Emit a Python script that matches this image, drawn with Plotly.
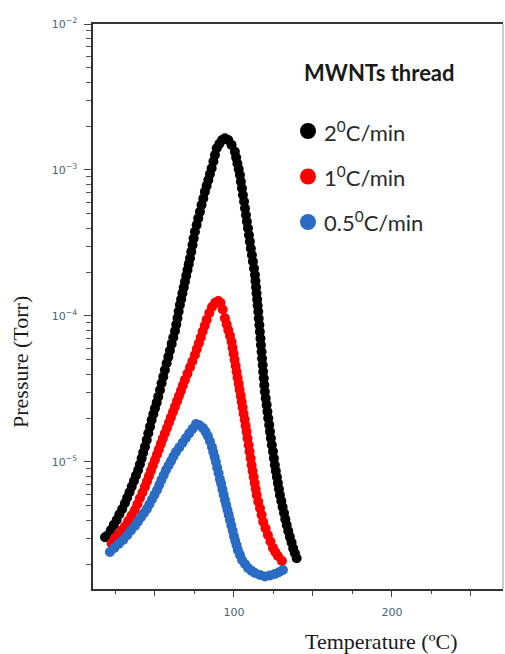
import plotly.graph_objects as go

# Desorption curves of the MWNTs thread at three heating rates
black_T = [18.4, 20.4, 22.2, 24.0, 25.8, 27.5, 29.3, 31.0, 32.4, 33.9,
           35.3, 36.7, 38.0, 39.4, 40.5, 41.6, 42.6, 43.7, 44.8, 45.8,
           46.9, 47.9, 49.0, 50.0, 51.1, 52.1, 53.2, 54.2, 55.3, 56.3,
           57.4, 58.5, 59.5, 60.6, 61.6, 62.7, 63.5, 64.3, 65.0, 65.8,
           66.6, 67.4, 68.2, 69.0, 69.8, 70.6, 71.4, 72.2, 73.0, 73.8,
           74.5, 75.3, 76.4, 77.4, 78.5, 79.5, 80.6, 81.6, 82.7, 83.8,
           84.8, 85.9, 87.0, 88.0, 89.1, 90.8, 92.5, 94.3, 96.4, 98.5,
           100.6, 101.4, 102.2, 103.0, 103.8, 104.4, 105.1, 105.7, 106.4, 107.0,
           107.6, 108.2, 108.9, 109.5, 110.1, 110.7, 111.4, 112.0, 112.7, 113.3,
           113.6, 114.0, 114.3, 114.7, 115.0, 115.4, 115.7, 116.1, 116.4, 116.8,
           117.1, 117.5, 117.8, 118.2, 118.5, 118.9, 119.2, 119.6, 120.1, 120.7,
           121.2, 121.7, 122.3, 122.8, 123.4, 124.0, 124.7, 125.3, 125.9, 126.5,
           127.2, 127.8, 128.5, 129.1, 130.0, 130.8, 131.7, 132.5, 133.4, 134.4,
           135.4, 136.5, 137.5, 138.6, 139.7]
black_P = [3.05e-6, 3.16e-6, 3.42e-6, 3.71e-6, 4.01e-6, 4.38e-6, 4.77e-6, 5.21e-6, 5.69e-6, 6.21e-6,
           6.78e-6, 7.40e-6, 8.07e-6, 8.81e-6, 9.66e-6, 1.059e-5, 1.161e-5, 1.274e-5, 1.416e-5, 1.574e-5,
           1.746e-5, 1.940e-5, 2.13e-5, 2.33e-5, 2.55e-5, 2.80e-5, 3.11e-5, 3.46e-5, 3.84e-5, 4.27e-5,
           4.74e-5, 5.25e-5, 5.81e-5, 6.44e-5, 7.13e-5, 7.89e-5, 8.73e-5, 9.68e-5, 1.072e-4, 1.189e-4,
           1.303e-4, 1.429e-4, 1.567e-4, 1.718e-4, 1.883e-4, 2.065e-4, 2.265e-4, 2.483e-4, 2.754e-4, 3.06e-4,
           3.40e-4, 3.78e-4, 4.20e-4, 4.66e-4, 5.18e-4, 5.75e-4, 6.38e-4, 7.10e-4, 7.78e-4, 8.53e-4,
           9.38e-4, 1.028e-3, 1.143e-3, 1.268e-3, 1.409e-3, 1.514e-3, 1.603e-3, 1.648e-3, 1.603e-3, 1.486e-3,
           1.333e-3, 1.216e-3, 1.109e-3, 1.014e-3, 9.25e-4, 8.32e-4, 7.50e-4, 6.75e-4, 6.08e-4, 5.47e-4,
           4.92e-4, 4.43e-4, 3.99e-4, 3.59e-4, 3.23e-4, 2.90e-4, 2.62e-4, 2.36e-4, 2.12e-4, 1.910e-4,
           1.734e-4, 1.574e-4, 1.429e-4, 1.297e-4, 1.178e-4, 1.069e-4, 9.62e-5, 8.67e-5, 7.80e-5, 7.02e-5,
           6.32e-5, 5.69e-5, 5.12e-5, 4.61e-5, 4.15e-5, 3.74e-5, 3.36e-5, 3.03e-5, 2.73e-5, 2.46e-5,
           2.21e-5, 1.991e-5, 1.795e-5, 1.614e-5, 1.452e-5, 1.307e-5, 1.178e-5, 1.059e-5, 9.53e-6, 8.67e-6,
           7.89e-6, 7.18e-6, 6.53e-6, 5.94e-6, 5.41e-6, 4.92e-6, 4.47e-6, 4.06e-6, 3.70e-6, 3.37e-6,
           3.07e-6, 2.81e-6, 2.56e-6, 2.37e-6, 2.19e-6]

red_T = [22.6, 24.7, 26.8, 28.9, 31.0, 33.1, 35.2, 37.3, 38.9, 40.5,
         42.1, 43.7, 45.0, 46.2, 47.5, 48.7, 50.0, 51.3, 52.5, 53.8,
         55.0, 56.3, 57.6, 58.9, 60.1, 61.4, 62.7, 64.0, 65.2, 66.5,
         67.7, 69.0, 70.6, 72.2, 73.7, 75.3, 76.5, 77.8, 79.0, 80.2,
         81.5, 82.7, 84.4, 86.1, 88.1, 90.1, 91.5, 92.9, 94.3, 95.4,
         96.4, 97.5, 98.5, 99.1, 99.8, 100.4, 101.1, 101.7, 102.3, 103.0,
         103.6, 104.3, 104.9, 105.5, 106.1, 106.8, 107.4, 108.0, 108.6, 109.3,
         109.9, 110.6, 111.2, 111.8, 112.5, 113.1, 113.8, 114.4, 115.4, 116.5,
         117.5, 118.5, 120.0, 121.5, 123.1, 124.7, 126.2, 127.8, 130.4]
red_P = [2.77e-6, 3.00e-6, 3.19e-6, 3.39e-6, 3.61e-6, 3.94e-6, 4.30e-6, 4.69e-6, 5.14e-6, 5.64e-6,
         6.18e-6, 6.78e-6, 7.38e-6, 8.02e-6, 8.73e-6, 9.48e-6, 1.033e-5, 1.125e-5, 1.222e-5, 1.331e-5,
         1.446e-5, 1.574e-5, 1.710e-5, 1.862e-5, 2.02e-5, 2.20e-5, 2.39e-5, 2.61e-5, 2.83e-5, 3.08e-5,
         3.35e-5, 3.65e-5, 4.03e-5, 4.45e-5, 4.90e-5, 5.41e-5, 5.93e-5, 6.50e-5, 7.13e-5, 7.82e-5,
         8.57e-5, 9.40e-5, 1.047e-4, 1.153e-4, 1.230e-4, 1.268e-4, 1.230e-4, 1.109e-4, 9.64e-5, 8.79e-5,
         8.02e-5, 7.31e-5, 6.67e-5, 6.07e-5, 5.52e-5, 5.01e-5, 4.56e-5, 4.15e-5, 3.78e-5, 3.43e-5,
         3.13e-5, 2.84e-5, 2.59e-5, 2.36e-5, 2.14e-5, 1.950e-5, 1.774e-5, 1.614e-5, 1.452e-5, 1.307e-5,
         1.178e-5, 1.059e-5, 9.53e-6, 8.67e-6, 7.89e-6, 7.18e-6, 6.53e-6, 5.94e-6, 5.35e-6, 4.82e-6,
         4.34e-6, 3.90e-6, 3.51e-6, 3.16e-6, 2.85e-6, 2.58e-6, 2.42e-6, 2.27e-6, 2.10e-6]

blue_T = [21.5, 24.3, 27.1, 29.9, 32.4, 34.8, 37.3, 39.2, 41.1, 43.0,
          44.9, 46.5, 48.1, 49.7, 51.3, 52.7, 54.1, 55.6, 57.0, 58.6,
          60.2, 61.7, 63.3, 65.4, 67.5, 69.6, 71.7, 73.9, 76.0, 78.2,
          80.4, 82.0, 83.5, 84.8, 86.1, 86.9, 87.8, 88.6, 89.4, 90.3,
          91.1, 91.9, 92.7, 93.5, 94.3, 95.1, 95.9, 96.7, 97.5, 98.3,
          99.2, 100.0, 100.8, 101.7, 102.5, 103.8, 105.1, 107.0, 108.9, 111.1,
          113.3, 116.5, 119.6, 122.8, 125.9, 128.5, 131.0]
blue_P = [2.42e-6, 2.58e-6, 2.75e-6, 2.92e-6, 3.15e-6, 3.39e-6, 3.65e-6, 3.90e-6, 4.17e-6, 4.46e-6,
          4.77e-6, 5.13e-6, 5.53e-6, 5.96e-6, 6.43e-6, 6.95e-6, 7.52e-6, 8.15e-6, 8.81e-6, 9.47e-6,
          1.016e-5, 1.089e-5, 1.169e-5, 1.259e-5, 1.355e-5, 1.459e-5, 1.571e-5, 1.691e-5, 1.820e-5, 1.786e-5,
          1.710e-5, 1.614e-5, 1.507e-5, 1.387e-5, 1.268e-5, 1.172e-5, 1.081e-5, 1.000e-5, 9.14e-6, 8.37e-6,
          7.65e-6, 7.11e-6, 6.49e-6, 5.97e-6, 5.49e-6, 5.08e-6, 4.69e-6, 4.34e-6, 4.01e-6, 3.68e-6,
          3.39e-6, 3.11e-6, 2.89e-6, 2.69e-6, 2.49e-6, 2.31e-6, 2.13e-6, 2.00e-6, 1.879e-6, 1.799e-6,
          1.738e-6, 1.683e-6, 1.645e-6, 1.667e-6, 1.710e-6, 1.758e-6, 1.820e-6]

series_names = ["2<sup>0</sup>C/min", "1<sup>0</sup>C/min", "0.5<sup>0</sup>C/min"]
series_colors = ["#000000", "#ff0000", "#2a6cc4"]
legend_title = "<b>MWNTs thread</b>"

x_label_vals = [100, 200]
x_label_text = ["100", "200"]
x_plain_vals = [50, 150, 250]
x_minor_vals = [25, 75, 125, 175, 225]
y_tick_vals = [1e-5, 1e-4, 1e-3, 1e-2]
y_tick_text = ["10<sup>\u22125</sup>", "10<sup>\u22124</sup>", "10<sup>\u22123</sup>", "10<sup>\u22122</sup>"]
y_minor_vals = [k * 10.0 ** e for e in (-6, -5, -4, -3) for k in range(2, 10)]

W, H = 505, 654
M_L, M_R, M_T, M_B = 93, 2, 24, 65
PW, PH = W - M_L - M_R, H - M_T - M_B
X_RANGE = [10.8, 270.3]


def px_x(px):
    return (px - M_L) / PW


def px_y(py):
    return 1 - (py - M_T) / PH


fig = go.Figure()
for T, P, name, color in zip([black_T, red_T, blue_T], [black_P, red_P, blue_P],
                             series_names, series_colors):
    fig.add_trace(go.Scatter(x=T, y=P, mode="markers", name=name,
                             marker=dict(size=10, color=color, line=dict(width=0)),
                             showlegend=False))

tick_font = dict(family="DejaVu Sans", size=11, color="#4a6374")

fig.update_layout(
    width=W, height=H,
    margin=dict(l=M_L, r=M_R, t=M_T, b=M_B, pad=0),
    paper_bgcolor="white", plot_bgcolor="white",
    xaxis=dict(range=X_RANGE, showgrid=False, zeroline=False,
               showline=True, linecolor="#333333", linewidth=1.5, mirror=True,
               ticks="outside", ticklen=6, tickwidth=1.2, tickcolor="#444444",
               tickvals=x_label_vals, ticktext=x_label_text, tickfont=tick_font,
               ticklabelstandoff=6,
               minor=dict(ticks="outside", ticklen=3, tickwidth=1.2, tickcolor="#444444",
                          tickvals=x_minor_vals)),
    # unlabelled major ticks at 50, 150, 250
    xaxis2=dict(range=X_RANGE, overlaying="x", anchor="y", side="bottom",
                showgrid=False, zeroline=False, showline=False,
                ticks="outside", ticklen=6, tickwidth=1.2, tickcolor="#444444",
                tickvals=x_plain_vals, showticklabels=False),
    yaxis=dict(type="log", range=[-5.870, -2.0], showgrid=False, zeroline=False,
               showline=True, linecolor="#333333", linewidth=1.5,
               ticks="outside", ticklen=7, tickwidth=1.2, tickcolor="#444444",
               tickvals=y_tick_vals, ticktext=y_tick_text, tickfont=tick_font,
               ticklabelstandoff=5,
               minor=dict(ticks="outside", ticklen=5, tickwidth=1.0, tickcolor="#555555",
                          tickvals=y_minor_vals)),
)
# carrier trace so the overlay axis is drawn
fig.add_trace(go.Scatter(x=[], y=[], xaxis="x2", yaxis="y", showlegend=False))

# right-hand frame edge
fig.add_shape(type="line", xref="paper", yref="paper", x0=1, x1=1, y0=0, y1=1,
              line=dict(color="#9a9a9a", width=1))

serif = "Liberation Serif, Times New Roman, serif"
fig.add_annotation(text="Temperature (\u00baC)", xref="paper", yref="paper",
                   x=px_x(381), y=px_y(641), xanchor="center", yanchor="middle",
                   showarrow=False, font=dict(family=serif, size=22, color="#1a1a1a"))
fig.add_annotation(text="Pressure (Torr)", xref="paper", yref="paper",
                   x=px_x(20), y=px_y(362), xanchor="center", yanchor="middle",
                   textangle=-90, showarrow=False,
                   font=dict(family=serif, size=22, color="#1a1a1a"))

# legend block
sans = "Lato, Open Sans, sans-serif"
fig.add_annotation(text=legend_title, xref="paper", yref="paper",
                   x=px_x(302), y=px_y(73), xanchor="left", yanchor="middle",
                   showarrow=False, font=dict(family=sans, size=22, color="#1a1a1a"))
for i, (name, color) in enumerate(zip(series_names, series_colors)):
    cy = 131 + 45.5 * i
    fig.add_shape(type="circle", xref="paper", yref="paper",
                  xsizemode="pixel", ysizemode="pixel",
                  xanchor=px_x(308), yanchor=px_y(cy),
                  x0=-8, x1=8, y0=-8, y1=8,
                  fillcolor=color, line=dict(width=0))
    fig.add_annotation(text=name, xref="paper", yref="paper",
                       x=px_x(322), y=px_y(cy), xanchor="left", yanchor="middle",
                       showarrow=False, font=dict(family=sans, size=22, color="#2a2a2a"))

fig.write_html("out.html")
